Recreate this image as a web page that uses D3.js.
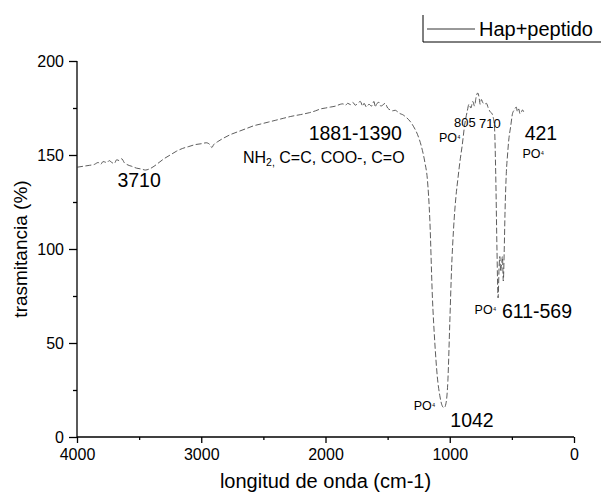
<!DOCTYPE html>
<html><head><meta charset="utf-8">
<script src="https://cdn.jsdelivr.net/npm/d3@7"></script>
<style>
body{margin:0;background:#fff;}
text{font-family:"Liberation Sans",Arial,sans-serif;fill:#000;}
</style></head>
<body><svg id="c" width="601" height="495"></svg>
<script>
// wavenumber (cm-1)
const wavenumber = [4000,3950,3900,3860,3830,3810,3790,3760,3740,3720,3700,3680,3660,3640,3620,3600,3560,3520,3480,3450,3420,3380,3340,3300,3250,3200,3150,3100,3050,3000,2960,2930,2915,2900,2870,2820,2760,2700,2640,2580,2520,2460,2400,2340,2280,2200,2130,2080,2040,2000,1960,1920,1880,1860,1840,1820,1800,1780,1760,1740,1720,1700,1690,1670,1650,1630,1610,1600,1590,1570,1555,1540,1520,1500,1480,1460,1440,1420,1400,1380,1350,1320,1290,1260,1230,1200,1180,1160,1140,1120,1100,1080,1060,1045,1030,1015,1000,985,970,950,935,915,900,880,860,845,830,815,800,790,775,765,755,745,735,720,705,690,675,660,650,640,630,620,611,603,597,590,583,576,569,562,555,545,535,525,510,495,480,465,455,445,435,425,415,405];
// transmittance (%)
const transmittance = [143.5,144,144.5,145,146,145,146.5,146,147,146,145.5,147.5,147,148,146,145,144,143,142.5,142,142.5,144,146,148,150,152,153.5,154.5,155.5,156,156.5,155.5,154,155.5,157,159,161,162.5,164,165.5,166.5,167.5,168.5,169.5,170.5,171.5,172.5,173.5,174.5,175,175.5,176,177,177.2,176.5,177.5,176.8,178,176.5,177.5,178.5,176,177.5,175.5,177,176,178.5,175.5,177,178,176,176.5,177.5,175,174,173.5,173.8,173,172,171.5,170,168,165,161,155,146,137,115,75,50,32,22,16.5,15.5,18,30,60,90,110,128,137,148,155,166,173,177,175,178.5,176,180,183,181,177,179.5,178,177,177.5,175,173,172,170,165,140,100,74,90,96,88,92,96,83,98,120,140,150,158,165,172,174,175.5,173,174.5,172,172.5,174,173];

const xTicks = [4000,3000,2000,1000,0];
const xMinor = [3500,2500,1500,500];
const yTicks = [0,50,100,150,200];
const yMinor = [25,75,125,175];
const seriesName = "Hap+peptido";
const xTitle = "longitud de onda (cm-1)";
const yTitle = "trasmitancia (%)";
// annotations: [text, wavenumber, transmittance]
const bigLabels = [["3710",3500,133],["1881-1390",1760,158],["1042",821,5.5],["421",266,158],["611-569",298,63.3]];
const smallLabels = [["805",966,165],["710",765,164.4]];
const poLabels = [[1087,157],[1290,14.5],[800,65.5],[415,148.5]];

const svg = d3.select("#c");
const x = d3.scaleLinear().domain([4000,0]).range([77,574]);
const y = d3.scaleLinear().domain([0,200]).range([437,61]);

// axes
const xa = svg.append("g").attr("transform",`translate(0,${y(0)})`)
  .call(d3.axisBottom(x).tickValues(xTicks).tickSize(6).tickPadding(6).tickFormat(d3.format("d")));
const xm = svg.append("g").attr("transform",`translate(0,${y(0)})`)
  .call(d3.axisBottom(x).tickValues(xMinor).tickSize(3).tickFormat(""));
const ya = svg.append("g").attr("transform",`translate(${x(4000)},0)`)
  .call(d3.axisLeft(y).tickValues(yTicks).tickSize(8).tickPadding(5));
const ym = svg.append("g").attr("transform",`translate(${x(4000)},0)`)
  .call(d3.axisLeft(y).tickValues(yMinor).tickSize(4).tickFormat(""));
[xa,xm,ya,ym].forEach(g=>{
  g.selectAll("path").attr("stroke","#000").attr("stroke-width",1.3);
  g.selectAll("line").attr("stroke","#000").attr("stroke-width",1.3);
  g.selectAll("text").style("font-size","16px").attr("fill","#000");
});
xm.select("path").remove(); ym.select("path").remove();
xa.select("path").attr("d",`M${x(4000)},0H${x(0)}`);
ya.select("path").attr("d",`M0,${y(200)}V${y(0)}`);

// titles
svg.append("text").attr("x",(x(4000)+x(0))/2).attr("y",488).attr("text-anchor","middle")
  .style("font-size","20px").text(xTitle);
svg.append("text").attr("transform",`translate(27,${(y(0)+y(200))/2}) rotate(-90)`)
  .attr("text-anchor","middle").style("font-size","19px").text(yTitle);

// spectrum
const data = wavenumber.map((w,i)=>({w,t:transmittance[i]}));
svg.append("path").datum(data)
  .attr("d",d3.line().x(d=>x(d.w)).y(d=>y(d.t)).curve(d3.curveMonotoneX))
  .attr("fill","none").attr("stroke","#333").attr("stroke-width",0.8)
  .attr("stroke-dasharray","6 2.5");

// annotations
bigLabels.forEach(([t,w,v])=>{
  svg.append("text").attr("x",x(w)).attr("y",y(v)).attr("text-anchor","middle")
    .style("font-size","19.5px").text(t);
});
smallLabels.forEach(([t,w,v])=>{
  svg.append("text").attr("x",x(w)).attr("y",y(v)).attr("text-anchor","start")
    .style("font-size","13px").text(t);
});
poLabels.forEach(([w,v])=>{
  const tx = svg.append("text").attr("x",x(w)).attr("y",y(v)).style("font-size","12.5px");
  tx.append("tspan").text("PO");
  tx.append("tspan").attr("dy",-3).attr("dx",0.5).style("font-size","5px").text("4");
});
const nh = svg.append("text").attr("x",x(2664)).attr("y",y(146)).style("font-size","16px");
nh.append("tspan").text("NH");
nh.append("tspan").attr("dy",3).style("font-size","10.5px").text("2,");
nh.append("tspan").attr("dy",-3).text(" C=C, COO-, C=O");

// legend
const lg = svg.append("g");
lg.append("line").attr("x1",423).attr("x2",423).attr("y1",15).attr("y2",42).attr("stroke","#000").attr("stroke-width",1);
lg.append("line").attr("x1",423).attr("x2",601).attr("y1",42).attr("y2",42).attr("stroke","#000").attr("stroke-width",1);
lg.append("line").attr("x1",427).attr("x2",475).attr("y1",29).attr("y2",29).attr("stroke","#333").attr("stroke-width",1);
lg.append("text").attr("x",479).attr("y",36).style("font-size","20px").text(seriesName);
</script></body></html>
